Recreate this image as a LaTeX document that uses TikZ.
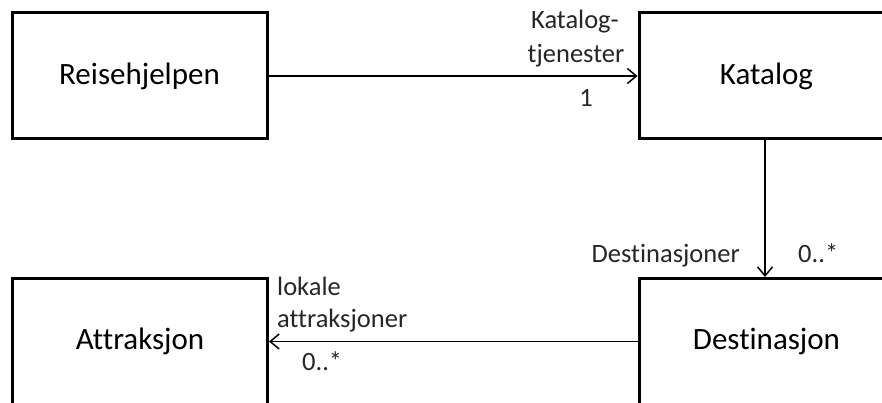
\documentclass[tikz,border=0pt]{standalone}
\usepackage{fontspec}
\setmainfont[Ligatures=NoCommon]{Carlito}
\usetikzlibrary{arrows.meta}
\begin{document}
\begin{tikzpicture}[x=1pt,y=-1pt,
  classbox/.style={draw=black,line width=3pt,minimum width=255pt,minimum height=126pt,inner sep=0pt,font=\fontsize{31}{37}\selectfont,fill=white},
  assoc/.style={line width=1.5pt,-{Straight Barb[length=9pt,width=15pt,line width=1.5pt]}},
  lbl/.style={inner sep=0pt,font=\fontsize{26.5}{31}\selectfont,text=black!85}]
\useasboundingbox (0,0) rectangle (882,403);
\node[classbox] (reise) at (139.5,76) {Reisehjelpen};
\node[classbox] (kat) at (766.5,76) {Katalog};
\node[classbox] (dest) at (766.5,341.5) {Destinasjon};
\node[classbox] (attr) at (140,341.5) {Attraksjon};
\draw[assoc] (reise.east) -- (kat.west);
\draw[assoc] ([xshift=-1.5pt]kat.south) -- ([xshift=-1.5pt]dest.north);
\draw[assoc] (dest.west) -- (attr.east);
\node[lbl,anchor=base] (l1) at (575,29) {Katalog-};
\node[lbl,anchor=base] (l2) at (576,63) {tjenester};
\node[lbl,anchor=base] (l3) at (586,107) {1};
\node[lbl,anchor=base east] (l4) at (740,262) {Destinasjoner};
\node[lbl,anchor=base west] (l5) at (798,262) {0..*};
\node[lbl,anchor=base west] (l6) at (277,295) {lokale};
\node[lbl,anchor=base west] (l7) at (277,327) {attraksjoner};
\node[lbl,anchor=base west] (l8) at (302,370) {0..*};
\end{tikzpicture}
\end{document}
